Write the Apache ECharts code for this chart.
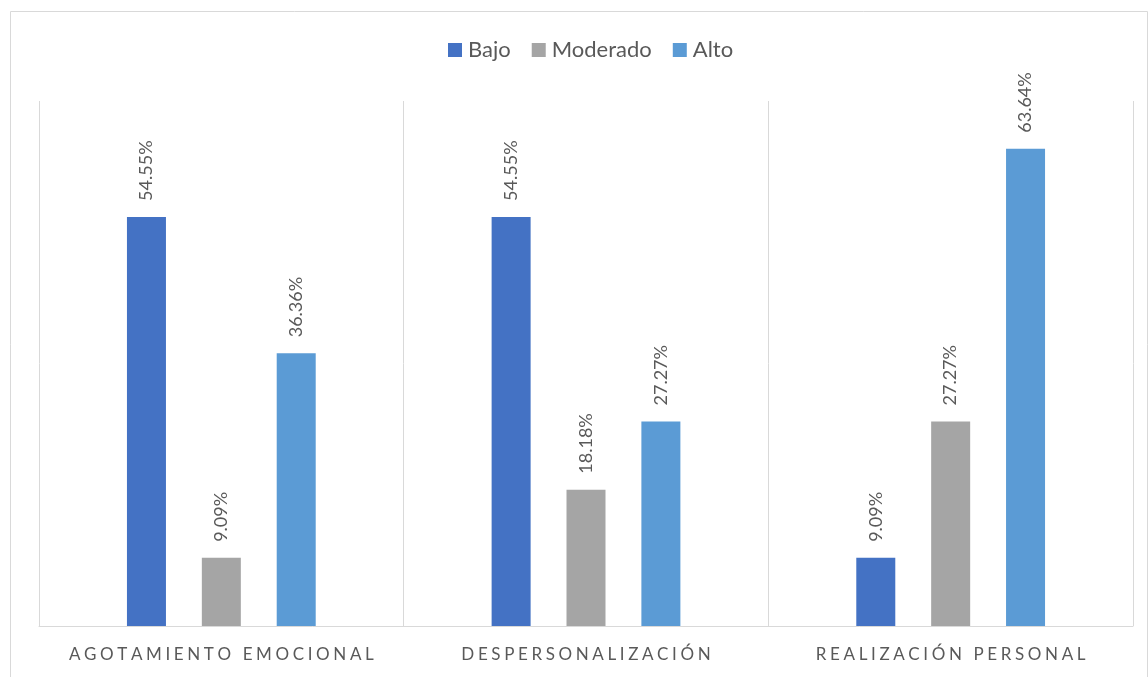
<!DOCTYPE html>
<html>
<head>
<meta charset="utf-8">
<script src="https://cdn.jsdelivr.net/npm/echarts@6/dist/echarts.min.js"></script>
<style>
  html, body { margin: 0; padding: 0; background: #fff; }
  #chart { width: 1148px; height: 677px; }
</style>
</head>
<body>
<div id="chart"></div>
<script>
// Dimensiones del síndrome de burnout
const categories = ['AGOTAMIENTO EMOCIONAL', 'DESPERSONALIZACIÓN', 'REALIZACIÓN PERSONAL'];
const seriesNames = ['Bajo', 'Moderado', 'Alto'];
const bajo = [54.55, 54.55, 9.09];
const moderado = [9.09, 18.18, 27.27];
const alto = [36.36, 27.27, 63.64];
const colors = ['#4472C4', '#A5A5A5', '#5B9BD5'];

// spread capitals apart with punctuation spaces
const spaced = s => s.split('').join('\u2008');

const chart = echarts.init(document.getElementById('chart'));
const fontFamily = 'Lato, "Open Sans", "Liberation Sans", sans-serif';

function makeSeries(name, data, color) {
  return {
    name: name,
    type: 'bar',
    data: data,
    barWidth: 39,
    barGap: '92%',
    itemStyle: { color: color },
    label: {
      show: true,
      position: 'top',
      rotate: 90,
      align: 'left',
      verticalAlign: 'middle',
      distance: 16,
      color: '#595959',
      fontSize: 18,
      fontFamily: fontFamily,
      formatter: p => p.value.toFixed(2) + '%'
    }
  };
}

chart.setOption({
  animation: false,
  color: colors,
  graphic: [{
    type: 'rect',
    shape: { x: 10.5, y: 11.5, width: 1137, height: 680 },
    style: { fill: 'none', stroke: '#d9d9d9', lineWidth: 1 },
    silent: true
  }],
  legend: {
    left: 448,
    top: 39,
    padding: 0,
    itemWidth: 14,
    itemHeight: 14,
    itemGap: 21,
    icon: 'rect',
    textStyle: { color: '#595959', fontSize: 22, fontFamily: fontFamily, padding: [0, 0, 0, 1] },
    data: seriesNames
  },
  grid: { left: 39, right: 15, top: 101, bottom: 51, containLabel: false },
  xAxis: {
    type: 'category',
    data: categories,
    axisTick: { show: false },
    axisLine: { lineStyle: { color: '#d9d9d9', width: 1 } },
    splitLine: { show: true, interval: 0, lineStyle: { color: '#d9d9d9', width: 1 } },
    axisLabel: {
      interval: 0,
      hideOverlap: false,
      margin: 20,
      color: '#595959',
      fontSize: 17,
      fontFamily: fontFamily,
      formatter: v => spaced(v)
    }
  },
  yAxis: {
    type: 'value',
    min: 0,
    max: 70,
    show: false,
    splitLine: { show: false }
  },
  series: [
    makeSeries(seriesNames[0], bajo, colors[0]),
    makeSeries(seriesNames[1], moderado, colors[1]),
    makeSeries(seriesNames[2], alto, colors[2])
  ]
});
</script>
</body>
</html>
